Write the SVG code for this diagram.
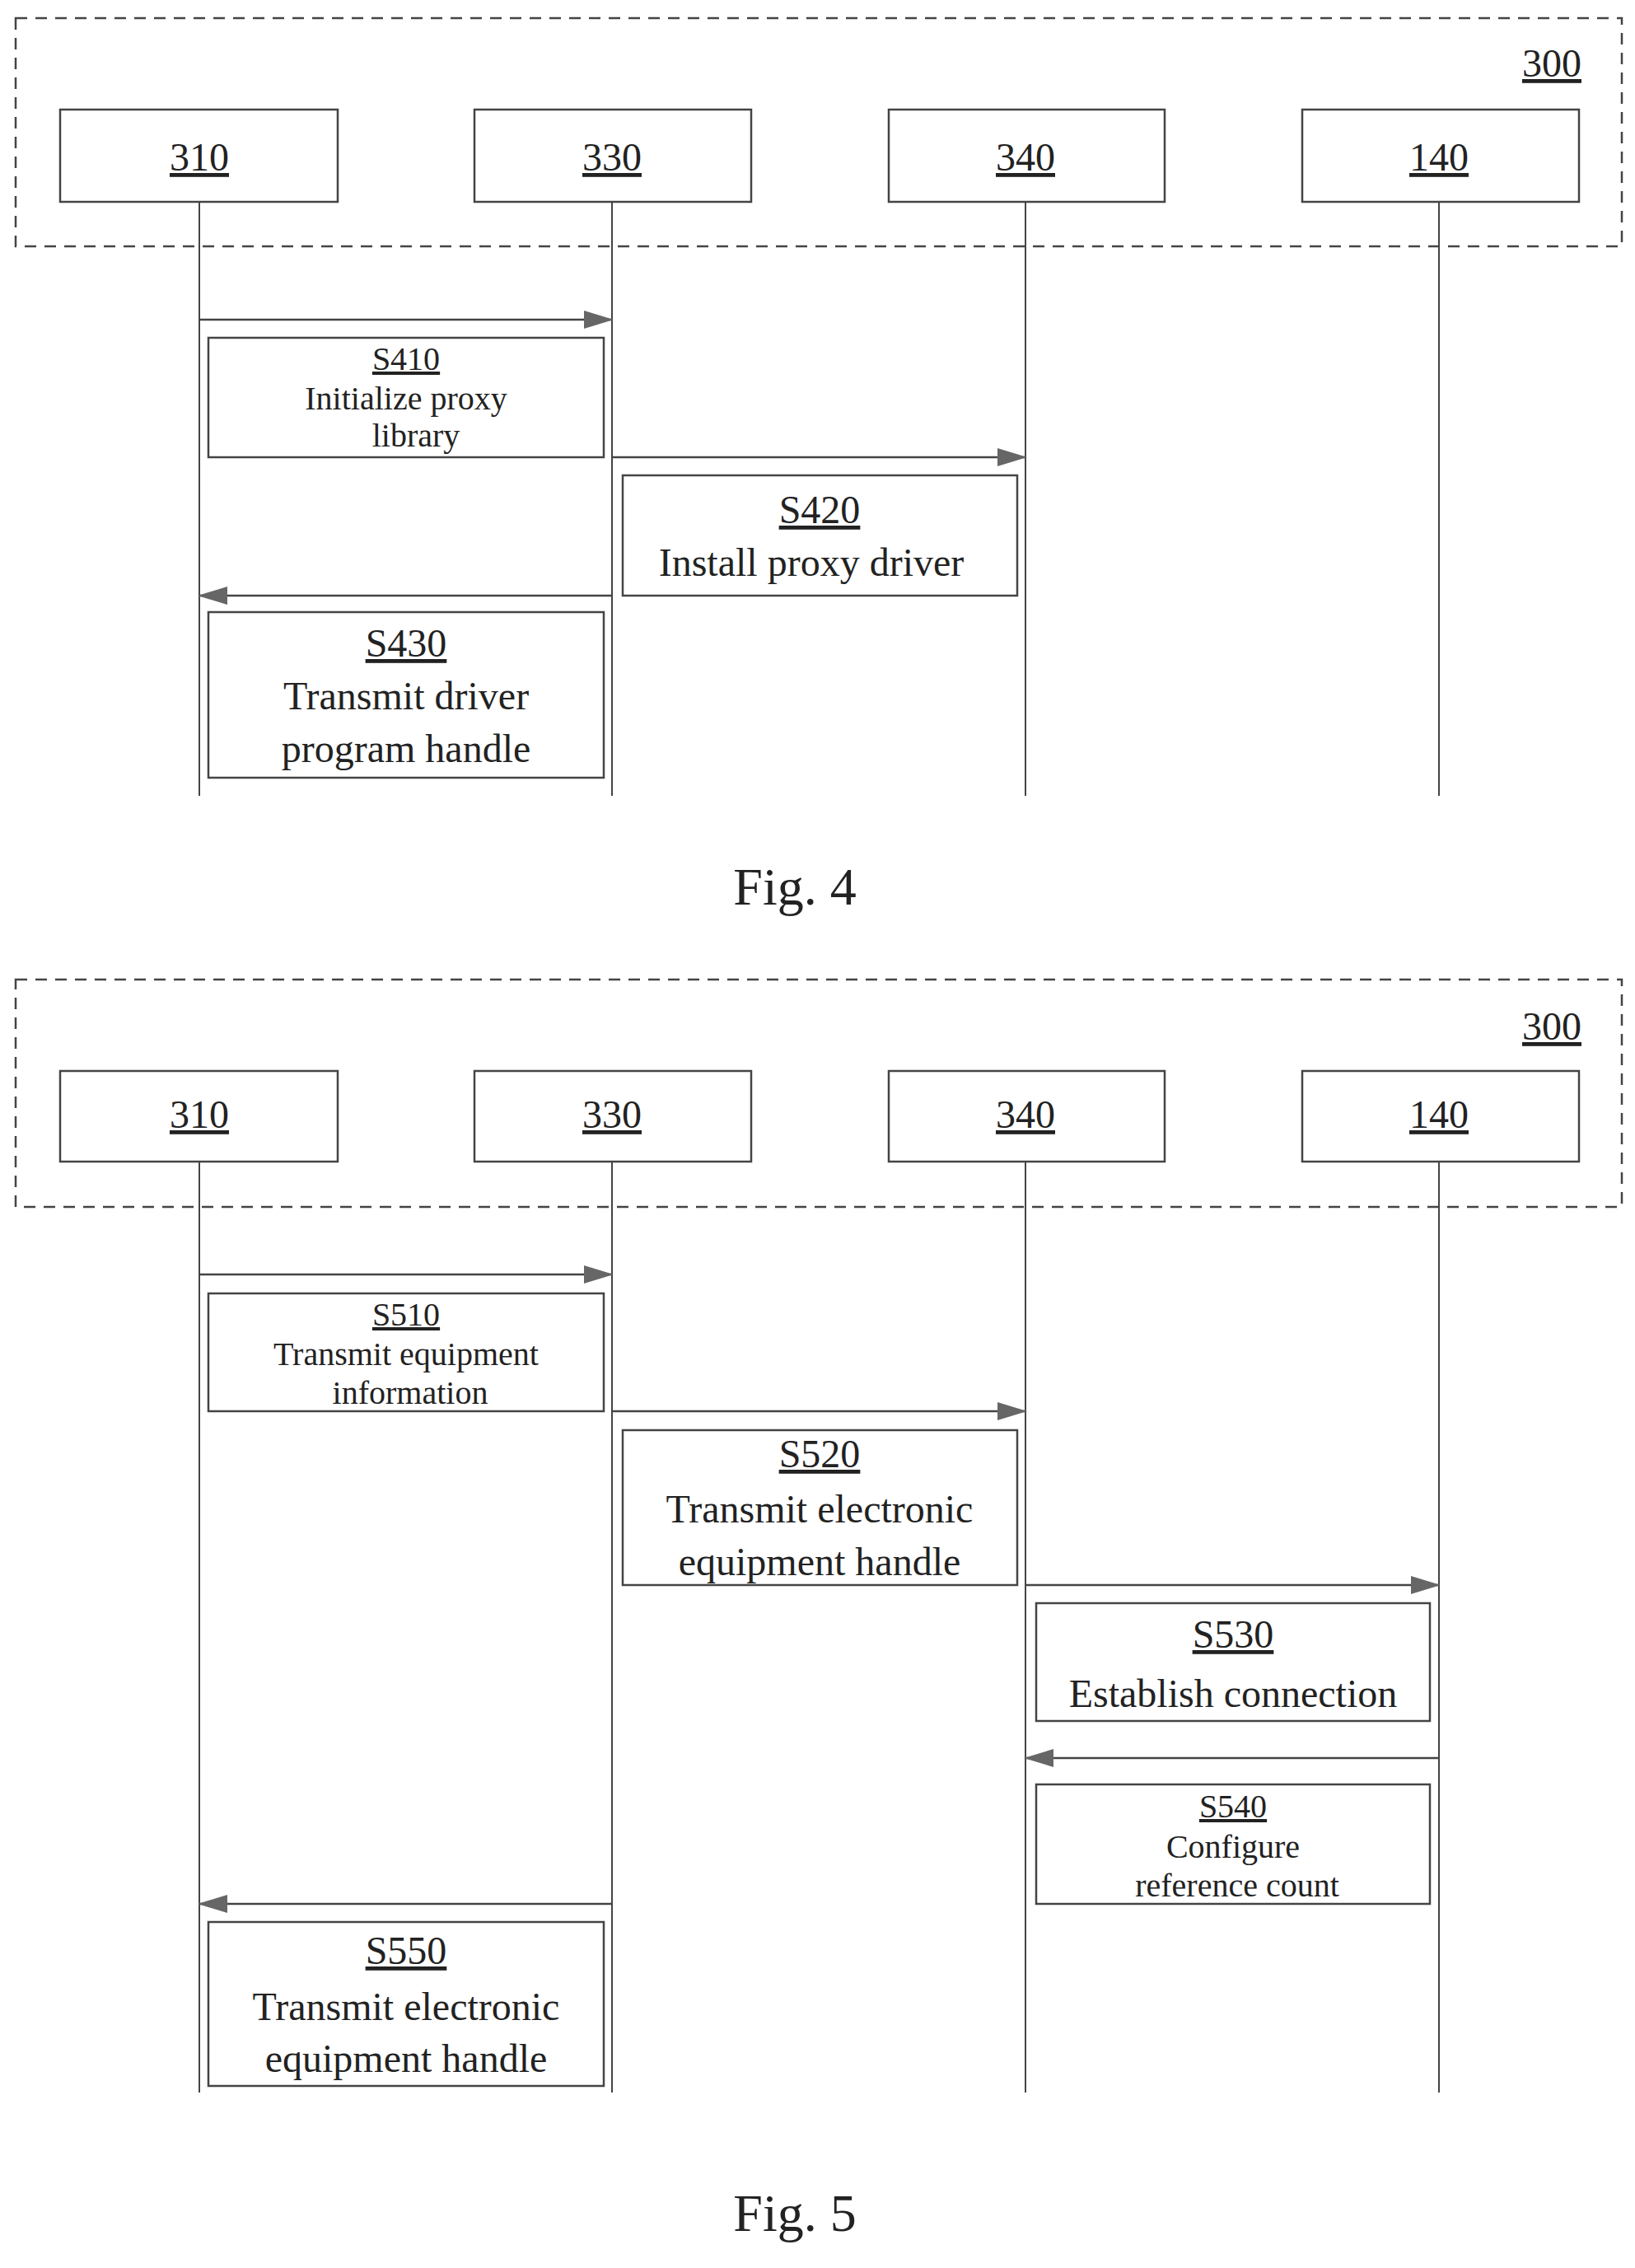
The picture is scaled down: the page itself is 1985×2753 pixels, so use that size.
<svg xmlns="http://www.w3.org/2000/svg" width="1985" height="2753" viewBox="0 0 1985 2753">
<style>
text{font-family:"Liberation Serif","Times New Roman",serif;font-size:48px;fill:#222;text-anchor:middle}
.u{text-decoration:underline}
.c{font-size:40px}
.fig{font-size:64px}
.frame{fill:none;stroke:#444;stroke-width:2.5;stroke-dasharray:14 10}
.box{fill:#fff;stroke:#444;stroke-width:2.5}
.life{stroke:#444;stroke-width:2}
.msg{stroke:#444;stroke-width:2.5;fill:none}
</style>
<defs><marker id="ah2" markerWidth="36" markerHeight="22" refX="34" refY="11" orient="auto" markerUnits="userSpaceOnUse"><path d="M0,0 L36,11 L0,22 Z" fill="#666"/></marker></defs>
<g id="fig4">
<rect class="frame" x="19" y="22" width="1950" height="277"/>
<text class="u" x="1884" y="93">300</text>
<g id="f4-lifelines">
<line class="life" x1="242" y1="245" x2="242" y2="966"/><line class="life" x1="743" y1="245" x2="743" y2="966"/><line class="life" x1="1245" y1="245" x2="1245" y2="966"/><line class="life" x1="1747" y1="245" x2="1747" y2="966"/></g>
<g id="f4-n310"><rect class="box" x="73" y="133" width="337" height="112"/><text class="u" x="242" y="207">310</text></g>
<g id="f4-n330"><rect class="box" x="576" y="133" width="336" height="112"/><text class="u" x="743" y="207">330</text></g>
<g id="f4-n340"><rect class="box" x="1079" y="133" width="335" height="112"/><text class="u" x="1245" y="207">340</text></g>
<g id="f4-n140"><rect class="box" x="1581" y="133" width="336" height="112"/><text class="u" x="1747" y="207">140</text></g>
<g id="f4-connectors">
<line class="msg" x1="242" y1="388" x2="743" y2="388" marker-end="url(#ah2)"/>
<line class="msg" x1="743" y1="555" x2="1245" y2="555" marker-end="url(#ah2)"/>
<line class="msg" x1="743" y1="723" x2="242" y2="723" marker-end="url(#ah2)"/>
</g>
<g id="s410"><rect class="box" x="253" y="410" width="480" height="145"/><text class="u c" x="493" y="449">S410</text><text class="c" x="493" y="497">Initialize proxy</text><text class="c" x="505" y="542">library</text></g>
<g id="s420"><rect class="box" x="756" y="577" width="479" height="146"/><text class="u" x="995" y="635">S420</text><text x="985" y="699">Install proxy driver</text></g>
<g id="s430"><rect class="box" x="253" y="743" width="480" height="201"/><text class="u" x="493" y="797">S430</text><text x="493" y="861">Transmit driver</text><text x="493" y="925">program handle</text></g>
<text class="fig" x="965" y="1098">Fig. 4</text>
</g>
<g id="fig5">
<rect class="frame" x="19" y="1189" width="1950" height="276"/>
<text class="u" x="1884" y="1262">300</text>
<g id="f5-lifelines">
<line class="life" x1="242" y1="1410" x2="242" y2="2540"/><line class="life" x1="743" y1="1410" x2="743" y2="2540"/><line class="life" x1="1245" y1="1410" x2="1245" y2="2540"/><line class="life" x1="1747" y1="1410" x2="1747" y2="2540"/></g>
<g id="f5-n310"><rect class="box" x="73" y="1300" width="337" height="110"/><text class="u" x="242" y="1369">310</text></g>
<g id="f5-n330"><rect class="box" x="576" y="1300" width="336" height="110"/><text class="u" x="743" y="1369">330</text></g>
<g id="f5-n340"><rect class="box" x="1079" y="1300" width="335" height="110"/><text class="u" x="1245" y="1369">340</text></g>
<g id="f5-n140"><rect class="box" x="1581" y="1300" width="336" height="110"/><text class="u" x="1747" y="1369">140</text></g>
<g id="f5-connectors">
<line class="msg" x1="242" y1="1547" x2="743" y2="1547" marker-end="url(#ah2)"/>
<line class="msg" x1="743" y1="1713" x2="1245" y2="1713" marker-end="url(#ah2)"/>
<line class="msg" x1="1245" y1="1924" x2="1747" y2="1924" marker-end="url(#ah2)"/>
<line class="msg" x1="1747" y1="2134" x2="1245" y2="2134" marker-end="url(#ah2)"/>
<line class="msg" x1="743" y1="2311" x2="242" y2="2311" marker-end="url(#ah2)"/>
</g>
<g id="s510"><rect class="box" x="253" y="1570" width="480" height="143"/><text class="u c" x="493" y="1609">S510</text><text class="c" x="493" y="1657">Transmit equipment</text><text class="c" x="498" y="1704">information</text></g>
<g id="s520"><rect class="box" x="756" y="1736" width="479" height="188"/><text class="u" x="995" y="1781">S520</text><text x="995" y="1848">Transmit electronic</text><text x="995" y="1912">equipment handle</text></g>
<g id="s530"><rect class="box" x="1258" y="1946" width="478" height="143"/><text class="u" x="1497" y="2000">S530</text><text x="1497" y="2072">Establish connection</text></g>
<g id="s540"><rect class="box" x="1258" y="2166" width="478" height="145"/><text class="u c" x="1497" y="2206">S540</text><text class="c" x="1497" y="2255">Configure</text><text class="c" x="1502" y="2302">reference count</text></g>
<g id="s550"><rect class="box" x="253" y="2333" width="480" height="199"/><text class="u" x="493" y="2384">S550</text><text x="493" y="2452">Transmit electronic</text><text x="493" y="2515">equipment handle</text></g>
<text class="fig" x="965" y="2708">Fig. 5</text>
</g>
</svg>
